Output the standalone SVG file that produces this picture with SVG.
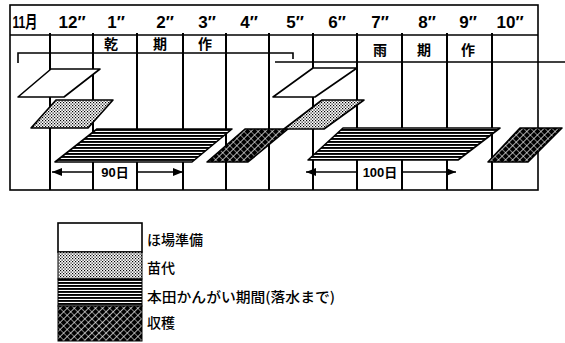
<svg xmlns="http://www.w3.org/2000/svg" width="565" height="343" viewBox="0 0 565 343">
<style>
.frame{fill:none;stroke:#000;stroke-width:1.6}
.vl{stroke:#000;stroke-width:2}
.mon{font-family:"Liberation Sans","DejaVu Sans","Noto Sans CJK JP",sans-serif;font-size:17px;font-weight:bold;text-anchor:middle;fill:#000}
.cjk{font-family:"Noto Sans CJK JP",sans-serif;font-size:14px;font-weight:bold;text-anchor:middle;fill:#000}
.days{font-family:"Liberation Sans","Noto Sans CJK JP",sans-serif;font-size:13px;font-weight:bold;text-anchor:middle;fill:#000}
.leg{font-family:"Noto Sans CJK JP",sans-serif;font-size:14px;font-weight:500;fill:#000}
.plane{stroke:#000;stroke-width:1.6;stroke-linejoin:round}
.conn{fill:none;stroke:#000;stroke-width:1.6}
</style>
<defs>
<pattern id="dots" width="3" height="3" patternUnits="userSpaceOnUse">
<rect width="3" height="3" fill="#fff"/>
<rect width="1.2" height="1.2" fill="#000"/>
<rect x="1.5" y="1.5" width="1.2" height="1.2" fill="#000"/>
</pattern>
<pattern id="stripes" width="6" height="3" patternUnits="userSpaceOnUse">
<rect width="6" height="3" fill="#fff"/>
<rect width="6" height="1.9" fill="#000"/>
</pattern>
<pattern id="hatch" width="5" height="5" patternUnits="userSpaceOnUse" patternTransform="rotate(45)">
<rect width="5" height="5" fill="#000"/>
<rect width="0.7" height="5" fill="#fff"/>
<rect width="5" height="0.5" fill="#fff"/>
</pattern>
<marker id="ah" viewBox="0 0 10 8" refX="10" refY="4" markerWidth="10" markerHeight="8" markerUnits="userSpaceOnUse" orient="auto-start-reverse">
<path d="M0,0 L10,4 L0,8 Z" fill="#000"/>
</marker>
</defs>
<rect width="565" height="343" fill="#fff"/>

<g id="grid">
<rect class="frame" x="10" y="5" width="528" height="185"/>
<line class="frame" x1="10" y1="35" x2="538" y2="35"/>
<line class="vl" x1="50" y1="33" x2="50" y2="190"/>
<line class="vl" x1="93" y1="33" x2="93" y2="190"/>
<line class="vl" x1="137" y1="33" x2="137" y2="190"/>
<line class="vl" x1="183" y1="33" x2="183" y2="190"/>
<line class="vl" x1="226" y1="33" x2="226" y2="190"/>
<line class="vl" x1="269" y1="33" x2="269" y2="190"/>
<line class="vl" x1="313" y1="33" x2="313" y2="190"/>
<line class="vl" x1="357" y1="33" x2="357" y2="190"/>
<line class="vl" x1="402" y1="33" x2="402" y2="190"/>
<line class="vl" x1="447" y1="33" x2="447" y2="190"/>
<line class="vl" x1="492" y1="33" x2="492" y2="190"/>
<text class="mon" x="25" y="28" textLength="25" lengthAdjust="spacingAndGlyphs">11月</text>
<text class="mon" x="72" y="28">12″</text>
<text class="mon" x="116" y="28">1″</text>
<text class="mon" x="165" y="28">2″</text>
<text class="mon" x="207" y="28">3″</text>
<text class="mon" x="249" y="28">4″</text>
<text class="mon" x="295" y="28">5″</text>
<text class="mon" x="337" y="28">6″</text>
<text class="mon" x="380" y="28">7″</text>
<text class="mon" x="427" y="28">8″</text>
<text class="mon" x="468" y="28">9″</text>
<text class="mon" x="510" y="28">10″</text>
<text class="cjk" x="111" y="49">乾</text>
<text class="cjk" x="160" y="49">期</text>
<text class="cjk" x="205" y="49">作</text>
<text class="cjk" x="380" y="55">雨</text>
<text class="cjk" x="424" y="55">期</text>
<text class="cjk" x="468" y="55">作</text>
</g>

<g id="connectors">
<path class="conn" d="M18,63 V53 H293 V59"/>
<path class="conn" d="M275,62 H565"/>
<line class="conn" x1="93" y1="172" x2="52" y2="172" marker-end="url(#ah)"/>
<line class="conn" x1="137" y1="172" x2="183" y2="172" marker-end="url(#ah)"/>
<line class="conn" x1="357" y1="172" x2="306" y2="172" marker-end="url(#ah)"/>
<line class="conn" x1="402" y1="172" x2="456" y2="172" marker-end="url(#ah)"/>
<text class="days" x="115" y="177">90日</text>
<text class="days" x="380" y="177">100日</text>
</g>

<g id="dry-field-prep"><polygon class="plane" fill="#fff" points="51,69 100,69 64,97 18,97"/></g>
<g id="dry-nursery"><polygon class="plane" fill="url(#dots)" points="56,100 113,100 88,128 31,128"/></g>
<g id="dry-irrigation"><polygon class="plane" fill="url(#stripes)" points="97,129 232,129 192,162 55,162"/></g>
<g id="dry-harvest"><polygon class="plane" fill="url(#hatch)" points="245,129 288,129 248,162 207,162"/></g>

<g id="wet-field-prep"><polygon class="plane" fill="#fff" points="313,68 357,68 315,97 273,97"/></g>
<g id="wet-nursery"><polygon class="plane" fill="url(#dots)" points="322,100 364,100 324,129 284,129"/></g>
<g id="wet-irrigation"><polygon class="plane" fill="url(#stripes)" points="343,128 500,128 458,160 308,160"/></g>
<g id="wet-harvest"><polygon class="plane" fill="url(#hatch)" points="520,128 562,128 528,162 488,162"/></g>

<g id="legend">
<rect x="58" y="223" width="84" height="29" fill="#fff" stroke="#000" stroke-width="1.6"/>
<rect x="58" y="252" width="84" height="27" fill="url(#dots)" stroke="#000" stroke-width="1"/>
<rect x="58" y="279" width="84" height="27" fill="url(#stripes)" stroke="#000" stroke-width="1"/>
<rect x="58" y="306" width="84" height="35" fill="url(#hatch)" stroke="#000" stroke-width="1"/>
<text class="leg" x="147" y="245">ほ場準備</text>
<text class="leg" x="147" y="273">苗代</text>
<text class="leg" x="147" y="302" textLength="188" lengthAdjust="spacingAndGlyphs">本田かんがい期間(落水まで)</text>
<text class="leg" x="147" y="328">収穫</text>
</g>
</svg>
